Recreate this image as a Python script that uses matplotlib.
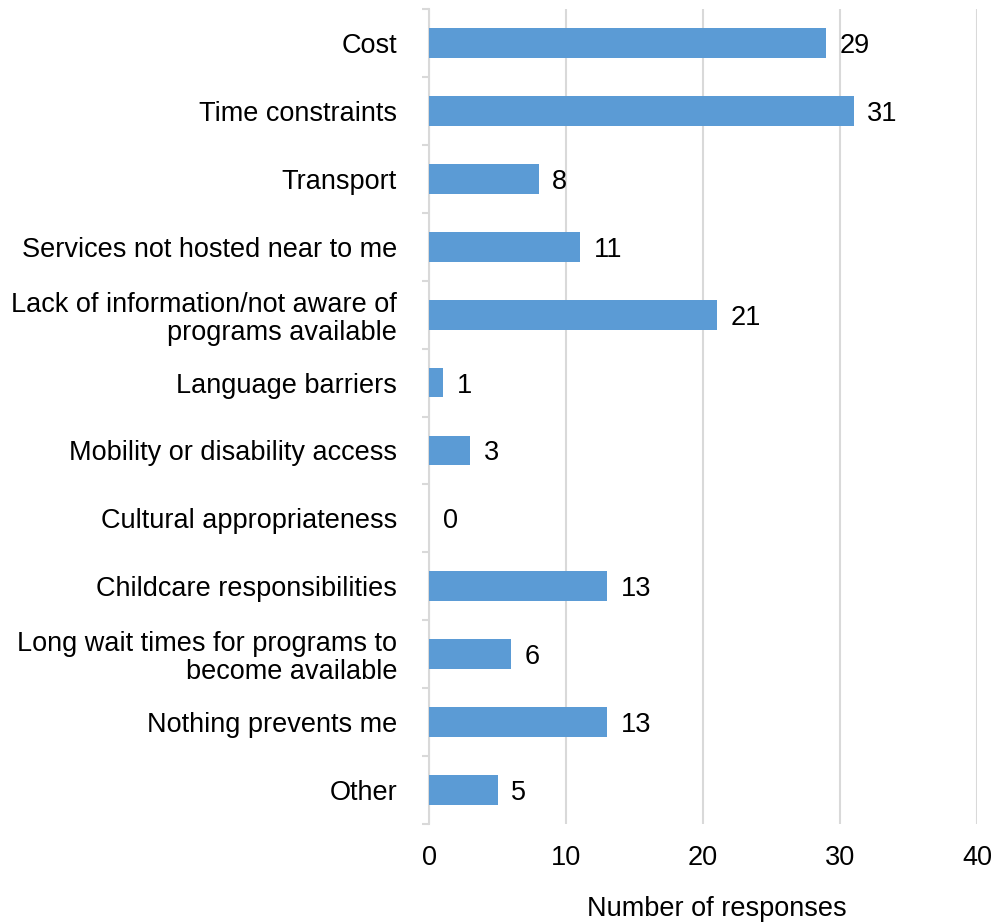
import matplotlib.pyplot as plt
import matplotlib
import numpy as np

matplotlib.rcParams['font.family'] = ['Liberation Sans', 'DejaVu Sans']
matplotlib.rcParams['font.size'] = 19.5

categories = ['Cost', 'Time constraints', 'Transport', 'Services not hosted near to me',
              'Lack of information/not aware of\nprograms available', 'Language barriers',
              'Mobility or disability access', 'Cultural appropriateness',
              'Childcare responsibilities',
              'Long wait times for programs to\nbecome available',
              'Nothing prevents me', 'Other']
responses = [29, 31, 8, 11, 21, 1, 3, 0, 13, 6, 13, 5]
xticks = [0, 10, 20, 30, 40]

grey = '#d9d9d9'
fig = plt.figure(figsize=(9.94, 9.22), dpi=100)
ax = fig.add_axes([0.4316, 0.1063, 0.5513, 0.8839])

y = np.arange(len(categories))
ax.barh(y, responses, height=0.44, color='#5B9BD5', zorder=3)
for i, v in enumerate(responses):
    ax.text(v + 1.0, y[i], str(v), va='center_baseline', ha='left', zorder=4)

ax.set_ylim(len(categories) - 0.5, -0.5)
ax.set_xlim(0, 40)
ax.set_yticks(y)
ax.set_yticklabels(categories, ha='right', linespacing=1.1)
ax.set_yticks(np.arange(len(categories) + 1) - 0.5, minor=True)
ax.tick_params(axis='y', which='major', length=0, pad=23)
ax.tick_params(axis='y', which='minor', length=5, width=1.5, color=grey)
ax.set_xticks(xticks)
ax.tick_params(axis='x', length=0, pad=15)

ax.grid(axis='x', color=grey, lw=1.5, zorder=0)
for s in ['top', 'right', 'bottom']:
    ax.spines[s].set_visible(False)
ax.spines['left'].set_color(grey)
ax.spines['left'].set_linewidth(1.5)

ax.set_xlabel('Number of responses')
ax.xaxis.set_label_coords(0.525, -0.088, transform=ax.transAxes)
ax.xaxis.label.set_va('top')

plt.savefig('out.png', dpi=100)
